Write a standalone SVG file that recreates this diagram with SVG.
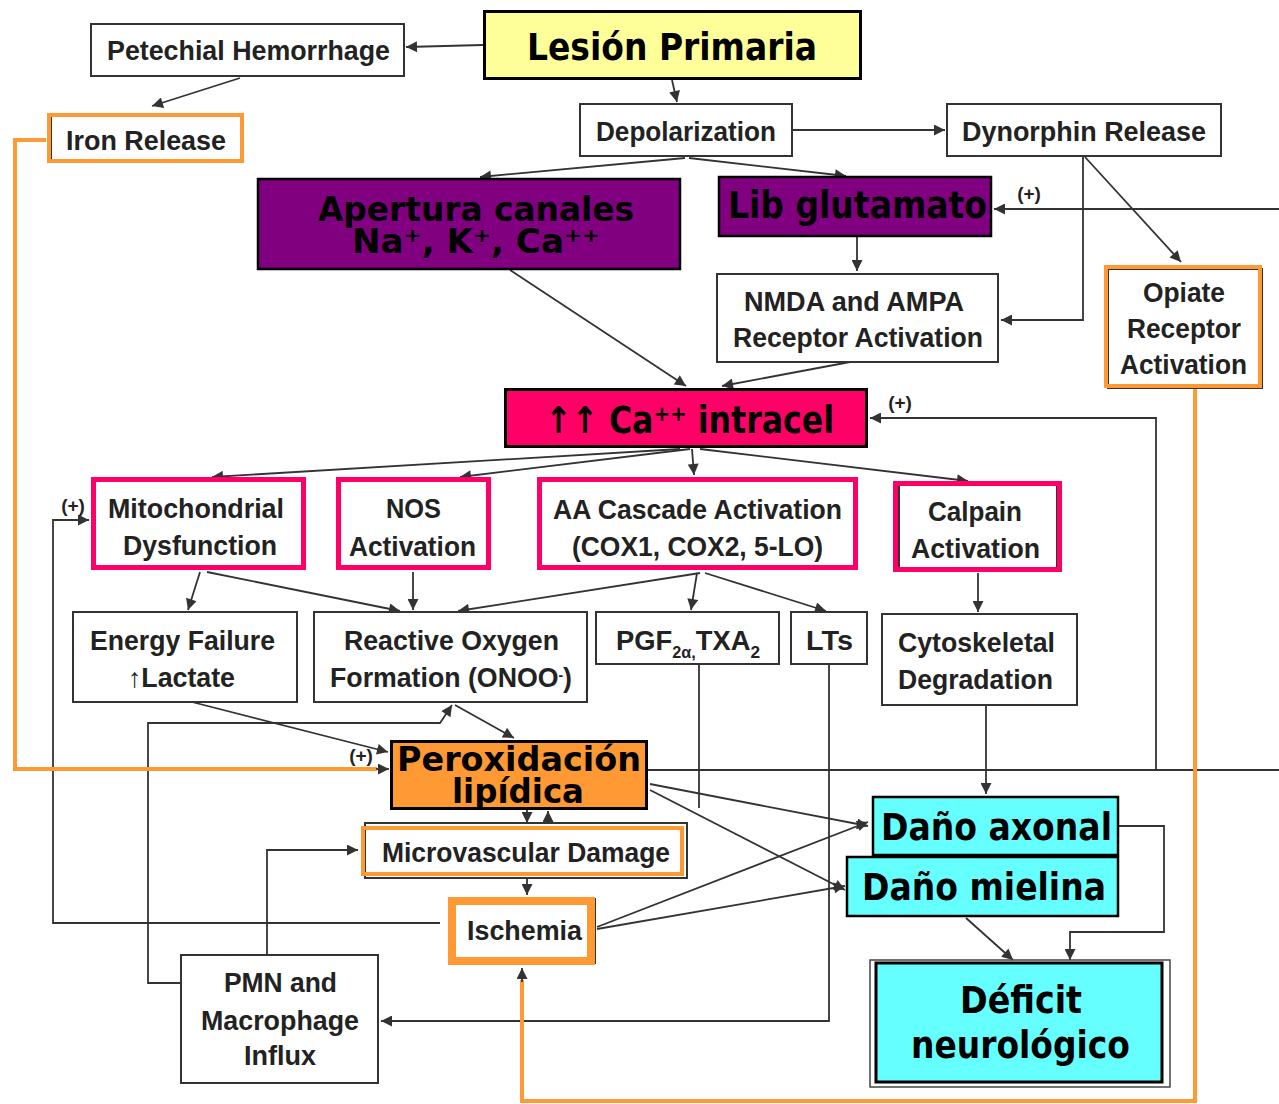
<svg xmlns="http://www.w3.org/2000/svg" width="1279" height="1104" viewBox="0 0 1279 1104">
  <defs>
    <marker id="ah" viewBox="0 0 10 10" refX="10" refY="5" markerWidth="14" markerHeight="11" markerUnits="userSpaceOnUse" orient="auto">
      <path d="M0,0 L10,5 L0,10 z" fill="#333"/>
    </marker>
    <style>
      .ln { fill: none; stroke: #333; stroke-width: 1.8; }
      .ar { marker-end: url(#ah); }
      .or { fill: none; stroke: #FF9933; stroke-width: 4; }
      .box { fill: #fff; stroke: #333; stroke-width: 2; }
      .pk { fill: none; stroke: #FF0066; stroke-width: 5; }
      .ob { fill: none; stroke: #FF9933; stroke-width: 4; }
      .g { font-family: "Liberation Sans", Arial, sans-serif; font-weight: bold; font-size: 27px; fill: #222; text-anchor: middle; }
      .b { font-family: "DejaVu Sans", Verdana, sans-serif; font-weight: bold; font-size: 37px; fill: #000; text-anchor: middle; }
      .b2 { font-family: "DejaVu Sans", Verdana, sans-serif; font-weight: bold; font-size: 34px; fill: #000; text-anchor: middle; }
      .pl { font-family: "Liberation Sans", Arial, sans-serif; font-weight: bold; font-size: 19px; fill: #222; text-anchor: middle; }
    </style>
  </defs>

  <rect x="0" y="0" width="1279" height="1104" fill="#fff"/>

  <!-- connectors -->
  <g id="connectors">
    <path class="ln ar" d="M483,45 L406,47"/>
    <path class="ln ar" d="M240,78 L152,106"/>
    <path class="ln ar" d="M672,80 L677,102"/>
    <path class="ln ar" d="M793,130 L945,130"/>
    <path class="ln ar" d="M685,158 L480,177"/>
    <path class="ln ar" d="M689,158 L846,176"/>
    <path class="ln ar" d="M1085,157 L1181,262"/>
    <path class="ln ar" d="M1083,157 V320 H1001"/>
    <path class="ln ar" d="M1279,209 H994"/>
    <path class="ln ar" d="M857,237 V271"/>
    <path class="ln ar" d="M510,270 L686,386"/>
    <path class="ln ar" d="M850,362 L722,386"/>
    <path class="ln ar" d="M680,449 L212,477"/>
    <path class="ln ar" d="M690,449 L460,477"/>
    <path class="ln ar" d="M692,449 L694,475"/>
    <path class="ln ar" d="M700,449 L968,481"/>
    <path class="ln" d="M648,770 H1279"/>
    <path class="ln ar" d="M1156,770 V418 H870"/>
    <path class="ln ar" d="M440,923 H53 V520 H89"/>
    <path class="ln ar" d="M200,572 L188,610"/>
    <path class="ln ar" d="M207,572 L400,611"/>
    <path class="ln ar" d="M413,572 V610"/>
    <path class="ln ar" d="M700,573 L458,611"/>
    <path class="ln ar" d="M697,573 L691,610"/>
    <path class="ln ar" d="M705,573 L826,611"/>
    <path class="ln ar" d="M978,573 V612"/>
    <path class="ln ar" d="M986,706 V794"/>
    <path class="ln ar" d="M192,702 L388,752"/>
    <path class="ln ar" d="M181,983 H148 V723 H440 L452,705"/>
    <path class="ln ar" d="M455,705 L514,738"/>
    <path class="ln ar" d="M527,810 V823"/>
    <path class="ln ar" d="M548,823 V811"/>
    <path class="ln ar" d="M527,878 V895"/>
    <path class="ln ar" d="M267,955 V850 H358"/>
    <path class="ln ar" d="M597,927 L868,822"/>
    <path class="ln ar" d="M597,929 L845,886"/>
    <path class="ln ar" d="M650,784 L868,826"/>
    <path class="ln ar" d="M650,790 L845,890"/>
    <path class="ln" d="M699,664 V808"/>
    <path class="ln ar" d="M829,664 V1021 H381"/>
    <path class="ln ar" d="M1119,826 H1164 V932 H1070 V960"/>
    <path class="ln ar" d="M966,918 L1013,960"/>
    <!-- orange links -->
    <path class="or" d="M46,140 H15 V769 H377"/>
    <path class="ln ar" d="M376,769 H389"/>
    <path class="or" d="M1195,389 V1101 H522 V980"/>
    <path class="ln ar" d="M522,982 V968"/>
    <!-- positive feedback marks -->
    <text class="pl" x="73" y="512">(+)</text>
    <text class="pl" x="1029" y="200">(+)</text>
    <text class="pl" x="900" y="409">(+)</text>
    <text class="pl" x="361" y="762">(+)</text>
  </g>

  <g id="lesion-primaria">
    <rect x="484.5" y="11.5" width="376" height="67" fill="#FFFF99" stroke="#000" stroke-width="3"/>
    <text class="b" x="672" y="60" textLength="290" lengthAdjust="spacingAndGlyphs">Lesión Primaria</text>
  </g>

  <g id="petechial-hemorrhage">
    <rect class="box" x="91" y="24" width="313" height="52"/>
    <text class="g" x="248.5" y="60" textLength="283" lengthAdjust="spacingAndGlyphs">Petechial Hemorrhage</text>
  </g>

  <g id="iron-release">
    <rect class="box" x="51" y="116" width="191" height="46"/>
    <rect class="ob" x="49" y="115" width="193" height="46"/>
    <text class="g" x="146" y="150" textLength="160" lengthAdjust="spacingAndGlyphs">Iron Release</text>
  </g>

  <g id="depolarization">
    <rect class="box" x="580" y="104" width="212" height="52"/>
    <text class="g" x="686" y="141" textLength="180" lengthAdjust="spacingAndGlyphs">Depolarization</text>
  </g>

  <g id="dynorphin-release">
    <rect class="box" x="947" y="104" width="274" height="52"/>
    <text class="g" x="1084" y="141" textLength="244" lengthAdjust="spacingAndGlyphs">Dynorphin Release</text>
  </g>

  <g id="apertura-canales">
    <rect x="258" y="179" width="422" height="90" fill="#800080" stroke="#000" stroke-width="2.5"/>
    <text class="b2" x="476" y="221" textLength="316" lengthAdjust="spacingAndGlyphs">Apertura canales</text>
    <text class="b2" x="476" y="253" textLength="248" lengthAdjust="spacingAndGlyphs">Na⁺, K⁺, Ca⁺⁺</text>
  </g>

  <g id="lib-glutamato">
    <rect x="719" y="177" width="272" height="59" fill="#800080" stroke="#000" stroke-width="2.5"/>
    <text class="b" x="857.5" y="218" textLength="259" lengthAdjust="spacingAndGlyphs">Lib glutamato</text>
  </g>

  <g id="nmda-ampa">
    <rect class="box" x="717" y="274" width="281" height="88"/>
    <text class="g" x="854" y="311" textLength="220" lengthAdjust="spacingAndGlyphs">NMDA and AMPA</text>
    <text class="g" x="858" y="347" textLength="250" lengthAdjust="spacingAndGlyphs">Receptor Activation</text>
  </g>

  <g id="opiate-receptor">
    <rect class="box" x="1108" y="269" width="154" height="119"/>
    <rect class="ob" x="1106" y="267" width="154" height="119"/>
    <text class="g" x="1184" y="302" textLength="82" lengthAdjust="spacingAndGlyphs">Opiate</text>
    <text class="g" x="1184" y="338" textLength="114" lengthAdjust="spacingAndGlyphs">Receptor</text>
    <text class="g" x="1183.5" y="374" textLength="127" lengthAdjust="spacingAndGlyphs">Activation</text>
  </g>

  <g id="ca-intracel">
    <rect x="505.5" y="389.5" width="361" height="57" fill="#FF0066" stroke="#000" stroke-width="3"/>
    <text class="b" x="689.5" y="433" textLength="289" lengthAdjust="spacingAndGlyphs">↑↑ Ca⁺⁺ intracel</text>
  </g>

  <g id="mitochondrial-dysfunction">
    <rect class="box" x="95" y="481" width="208" height="86"/>
    <rect class="pk" x="93.5" y="479.5" width="210" height="88"/>
    <text class="g" x="196" y="518" textLength="176" lengthAdjust="spacingAndGlyphs">Mitochondrial</text>
    <text class="g" x="200" y="555" textLength="154" lengthAdjust="spacingAndGlyphs">Dysfunction</text>
  </g>

  <g id="nos-activation">
    <rect class="box" x="340" y="481" width="150" height="86"/>
    <rect class="pk" x="338.5" y="479.5" width="150" height="88"/>
    <text class="g" x="413.5" y="518" textLength="55" lengthAdjust="spacingAndGlyphs">NOS</text>
    <text class="g" x="412.5" y="556" textLength="127" lengthAdjust="spacingAndGlyphs">Activation</text>
  </g>

  <g id="aa-cascade">
    <rect class="box" x="541" y="481" width="315" height="86"/>
    <rect class="pk" x="539.5" y="479.5" width="316" height="88"/>
    <text class="g" x="697.5" y="519" textLength="289" lengthAdjust="spacingAndGlyphs">AA Cascade Activation</text>
    <text class="g" x="697.5" y="556" textLength="251" lengthAdjust="spacingAndGlyphs">(COX1, COX2, 5-LO)</text>
  </g>

  <g id="calpain-activation">
    <rect class="box" x="899" y="485" width="158" height="84"/>
    <rect class="pk" x="895.5" y="483.5" width="164" height="86"/>
    <text class="g" x="975" y="521" textLength="94" lengthAdjust="spacingAndGlyphs">Calpain</text>
    <text class="g" x="975.5" y="558" textLength="129" lengthAdjust="spacingAndGlyphs">Activation</text>
  </g>

  <g id="energy-failure">
    <rect class="box" x="73" y="612" width="224" height="90"/>
    <text class="g" x="182.5" y="650" textLength="185" lengthAdjust="spacingAndGlyphs">Energy Failure</text>
    <text class="g" x="181.5" y="687" textLength="107" lengthAdjust="spacingAndGlyphs">↑Lactate</text>
  </g>

  <g id="reactive-oxygen">
    <rect class="box" x="314" y="612" width="273" height="90"/>
    <text class="g" x="451.5" y="650" textLength="215" lengthAdjust="spacingAndGlyphs">Reactive Oxygen</text>
    <text class="g" x="451" y="687" textLength="242" lengthAdjust="spacingAndGlyphs">Formation (ONOO<tspan dy="-7" font-size="14">-</tspan><tspan dy="7">)</tspan></text>
  </g>

  <g id="pgf-txa">
    <rect class="box" x="596" y="612" width="183" height="52"/>
    <text class="g" x="616" y="650" style="text-anchor:start" textLength="144" lengthAdjust="spacingAndGlyphs">PGF<tspan dy="8" font-size="16">2α,</tspan><tspan dy="-8">TXA</tspan><tspan dy="8" font-size="17">2</tspan></text>
  </g>

  <g id="lts">
    <rect class="box" x="791" y="612" width="76" height="52"/>
    <text class="g" x="829.5" y="650" textLength="47" lengthAdjust="spacingAndGlyphs">LTs</text>
  </g>

  <g id="cytoskeletal-degradation">
    <rect class="box" x="882" y="614" width="195" height="91"/>
    <text class="g" x="976.5" y="652" textLength="157" lengthAdjust="spacingAndGlyphs">Cytoskeletal</text>
    <text class="g" x="975.5" y="689" textLength="155" lengthAdjust="spacingAndGlyphs">Degradation</text>
  </g>

  <g id="peroxidacion-lipidica">
    <rect x="391.5" y="741.5" width="255" height="67" fill="#FF9933" stroke="#000" stroke-width="3"/>
    <text class="b2" x="519" y="771" textLength="244" lengthAdjust="spacingAndGlyphs">Peroxidación</text>
    <text class="b2" x="518" y="803" textLength="132" lengthAdjust="spacingAndGlyphs">lipídica</text>
  </g>

  <g id="microvascular-damage">
    <rect class="box" x="365" y="823" width="322" height="55"/>
    <rect class="ob" x="363" y="828" width="319" height="46"/>
    <text class="g" x="526" y="862" textLength="288" lengthAdjust="spacingAndGlyphs">Microvascular Damage</text>
  </g>

  <g id="ischemia">
    <rect class="box" x="450" y="899" width="145" height="64"/>
    <rect x="452" y="901" width="139" height="60" fill="none" stroke="#FF9933" stroke-width="8"/>
    <text class="g" x="524.5" y="940" textLength="115" lengthAdjust="spacingAndGlyphs">Ischemia</text>
  </g>

  <g id="pmn-macrophage">
    <rect class="box" x="181" y="955" width="197" height="128"/>
    <text class="g" x="280.5" y="992" textLength="113" lengthAdjust="spacingAndGlyphs">PMN and</text>
    <text class="g" x="280" y="1030" textLength="158" lengthAdjust="spacingAndGlyphs">Macrophage</text>
    <text class="g" x="280" y="1065" textLength="72" lengthAdjust="spacingAndGlyphs">Influx</text>
  </g>

  <g id="dano-axonal">
    <rect x="873" y="797" width="245" height="58" fill="#66FFFF" stroke="#000" stroke-width="2.5"/>
    <text class="b" x="996.5" y="840" textLength="231" lengthAdjust="spacingAndGlyphs">Daño axonal</text>
  </g>

  <g id="dano-mielina">
    <rect x="847" y="857" width="271" height="59" fill="#66FFFF" stroke="#000" stroke-width="2.5"/>
    <text class="b" x="984" y="900" textLength="244" lengthAdjust="spacingAndGlyphs">Daño mielina</text>
  </g>

  <g id="deficit-neurologico">
    <rect x="870" y="960" width="300" height="127" fill="none" stroke="#444" stroke-width="1.5"/>
    <rect x="876" y="963" width="286" height="119" fill="#66FFFF" stroke="#000" stroke-width="3"/>
    <text class="b" x="1021" y="1013" textLength="122" lengthAdjust="spacingAndGlyphs">Déficit</text>
    <text class="b" x="1020.5" y="1058" textLength="219" lengthAdjust="spacingAndGlyphs">neurológico</text>
  </g>
</svg>
